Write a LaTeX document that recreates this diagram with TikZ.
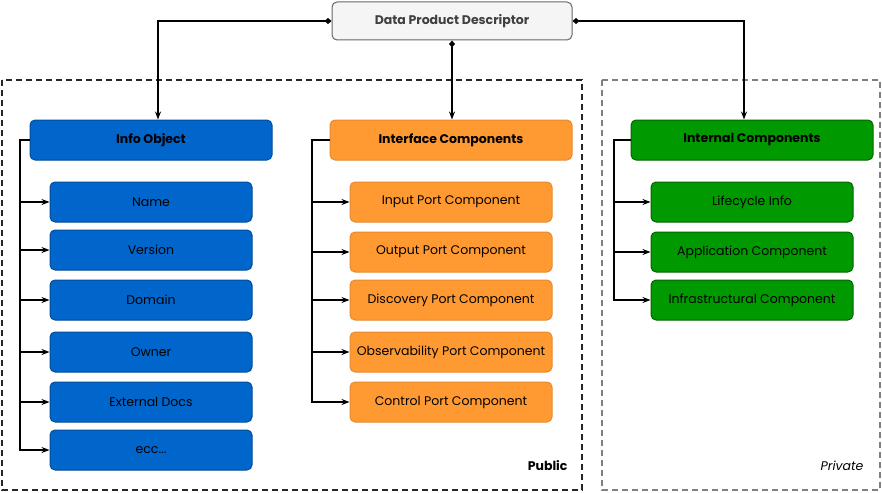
\documentclass[tikz,border=0pt]{standalone}
\usepackage{fontspec}
\setmainfont{Poppins}
\usetikzlibrary{arrows.meta}
\definecolor{dpdfill}{HTML}{F5F5F5}
\definecolor{dpdline}{HTML}{666666}
\definecolor{bluefill}{HTML}{0066CC}
\definecolor{blueline}{HTML}{004C99}
\definecolor{orfill}{HTML}{FF9A33}
\definecolor{orline}{HTML}{E58A2E}
\definecolor{grfill}{HTML}{009900}
\definecolor{grline}{HTML}{006600}
\tikzset{
  box/.style={rounded corners=5pt, line width=1pt, minimum height=40pt, inner sep=0pt, font=\fontsize{12.5}{15}\selectfont},
  headbox/.style={box, minimum width=242pt, font=\fontsize{12.5}{15}\selectfont\bfseries},
  childbox/.style={box, minimum width=202pt},
  blue/.style={fill=bluefill, draw=blueline},
  orange/.style={fill=orfill, draw=orline},
  green/.style={fill=grfill, draw=grline},
  link/.style={line width=1.3pt, -{Stealth[length=8pt,width=6pt]}},
  dlink/.style={line width=1.3pt, {Diamond[length=7pt,width=6pt]}-{Stealth[length=8pt,width=6pt]}},
  area/.style={line width=1.6pt, dash pattern=on 6pt off 4pt},
}
\begin{document}
\begin{tikzpicture}[x=1pt,y=-1pt]
\useasboundingbox (0,0) rectangle (882,492);
% areas
\draw[area, draw=black!85] (2,80) rectangle (582,490);
\draw[area, draw=black!50] (602,80) rectangle (880,490);
\node[anchor=east, font=\fontsize{12.5}{15}\selectfont\bfseries] (pub) at (571,466) {Public};
\node[anchor=east, font=\fontsize{12.5}{15}\selectfont\itshape] (priv) at (867,466) {Private};
% descriptor
\node[box, minimum width=240pt, minimum height=38pt, fill=dpdfill, draw=dpdline, text=black!75, font=\fontsize{12.5}{15}\selectfont\bfseries] (dpd) at (452,21) {Data Product Descriptor};
% heads
\node[headbox, blue] (info) at (151,140) {Info Object};
\node[headbox, orange] (intf) at (451,140) {Interface Components};
\node[headbox, green] (intl) at (752,140) {Internal Components};
% info children
\foreach \n/\y/\t in {n1/202/Name, n2/250/Version, n3/300/Domain, n4/352/Owner, n5/402/External Docs}{
  \node[childbox, blue] (\n) at (151,\y) {\t};
}
\node[childbox, blue] (n6) at (151,450) {ecc...};
\foreach \n/\y/\t in {i1/202/Input Port Component, i2/252/Output Port Component, i3/300/Discovery Port Component, i4/352/Observability Port Component, i5/402/Control Port Component}{
  \node[childbox, orange] (\n) at (451,\y) {\t};
}
\foreach \n/\y/\t in {g1/202/Lifecycle Info, g2/252/Application Component, g3/300/Infrastructural Component}{
  \node[childbox, green] (\n) at (752,\y) {\t};
}
% top connectors
\draw[dlink] (dpd.west) -| (info.north -| 158,0);
\draw[dlink] (dpd.south) -- (intf.north -| dpd.south);
\draw[dlink] (dpd.east) -| (intl.north -| 744,0);
% tree connectors
\foreach \n in {n1,n2,n3,n4,n5,n6}{
  \draw[link] (info.west) -| (20,0 |- \n.west) -- (\n.west);
}
\foreach \n in {i1,i2,i3,i4,i5}{
  \draw[link] (intf.west) -| (312,0 |- \n.west) -- (\n.west);
}
\foreach \n in {g1,g2,g3}{
  \draw[link] (intl.west) -| (614,0 |- \n.west) -- (\n.west);
}
\end{tikzpicture}
\end{document}
